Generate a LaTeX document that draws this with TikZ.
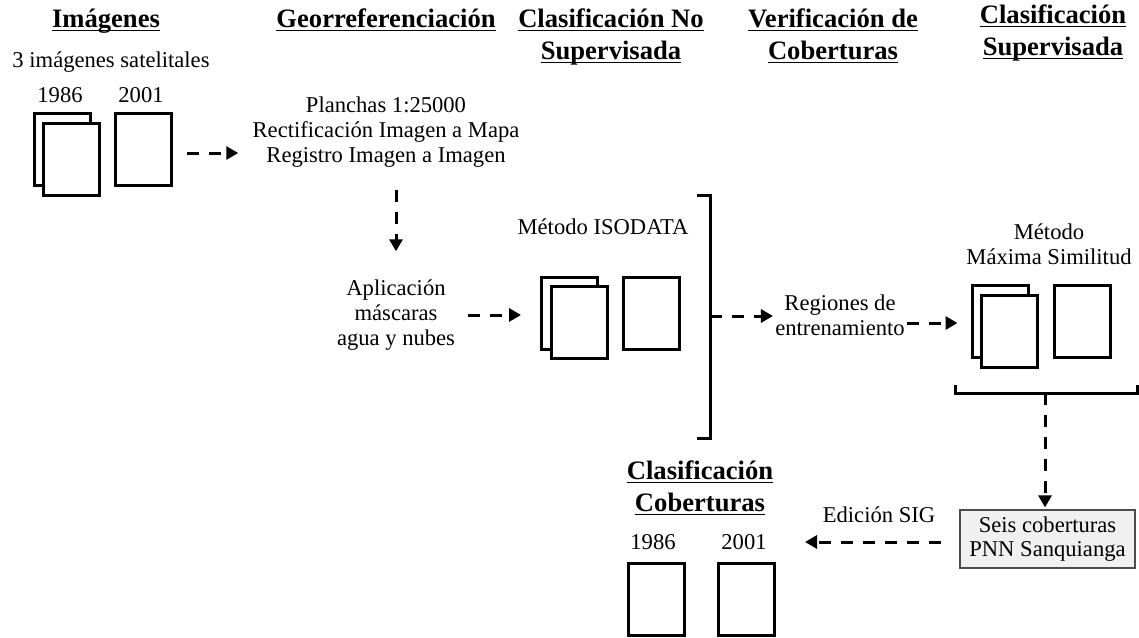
\documentclass[tikz,border=0pt]{standalone}
\usepackage{fontspec}
\setmainfont{Liberation Serif}
\usetikzlibrary{calc,positioning,arrows.meta}
% underline that sits on the baseline and runs through descenders
\newcommand\ulbox[1]{\underline{\smash{#1}\vphantom{A}}}
\tikzset{
  sheet/.style={ % image of one satellite scene
    draw, line width=1.5pt, rectangle, fill=white,
    minimum width=28pt, minimum height=36pt, inner sep=0pt
  },
  head/.style={ % underlined column title
    font=\fontsize{13.3}{16}\selectfont\bfseries,
    align=center, inner sep=1pt
  },
  txt/.style={
    font=\fontsize{11.3}{12.5}\selectfont,
    align=center, inner sep=1pt
  },
  flow/.style={ % dashed step arrow
    line width=1.5pt, dash pattern=on 6pt off 5pt,
    -{Triangle[length=6pt,width=6.5pt]}
  },
  brace/.style={line width=1.5pt},
  cover/.style={
    draw=black!70, line width=0.6pt, fill=black!6,
    minimum width=87.5pt, minimum height=29pt,
    font=\fontsize{11.3}{12}\selectfont, align=center, inner sep=1pt
  }
}

\begin{document}
\begin{tikzpicture}[x=0.5pt, y=-0.5pt]
  \useasboundingbox (0,0) rectangle (1139,637);

  % column titles
  \node[head] (h_img) at (106,21) {\ulbox{Imágenes}};
  \node[head] (h_geo) at (386,21) {\ulbox{Georreferenciación}};
  \node[head] (h_nosup) at (611,37) {\ulbox{Clasificación No}\\\ulbox{Supervisada}};
  \node[head] (h_ver) at (833,37) {\ulbox{Verificación de}\\\ulbox{Coberturas}};
  \node[head] (h_sup) at (1053,33) {\ulbox{Clasificación}\\\ulbox{Supervisada}};

  % input images
  \node[txt] (sat_text) at (111,62) {3 imágenes satelitales};
  \node[sheet] (a_back) at (62.5,149) {};
  \node[sheet] (a_front) at (71.5,159) {};
  \node[sheet] (a_2001) at (143.5,149) {};
  \node[txt] (a_y1) at (60,95) {1986};
  \node[txt] (a_y2) at (141,95) {2001};

  % georeferencing
  \node[txt] (geo_text) at (386,132) {Planchas 1:25000\\Rectificación Imagen a Mapa\\Registro Imagen a Imagen};
  \node[txt] (mask_text) at (396,315) {Aplicación\\máscaras\\agua y nubes};

  % unsupervised
  \node[txt] (iso_text) at (603,227) {Método ISODATA};
  \node[sheet] (b_back) at (569.5,313.5) {};
  \node[sheet] (b_front) at (579,322) {};
  \node[sheet] (b_2001) at (651.5,313.5) {};
  \draw[brace] (697,195) -- (710,195) -- (710,438) -- (697,438);
  \coordinate (br_mid) at (710,316);

  % verification and supervised
  \node[txt] (reg_text) at (840,315) {Regiones de\\entrenamiento};
  \node[txt] (max_text) at (1049,244) {Método\\Máxima Similitud};
  \node[sheet] (c_back) at (1000,321.5) {};
  \node[sheet] (c_front) at (1009.5,331.5) {};
  \node[sheet] (c_2001) at (1082,321.5) {};
  \draw[brace] (955,385) -- (955,393) -- (1137,393) -- (1137,385);
  \coordinate (br2_mid) at (1045,393);
  \node[cover] (cover_box) at (1047.5,539) {Seis coberturas\\PNN Sanquianga};

  % result
  \node[head] (h_cls) at (700,489) {\ulbox{Clasificación}\\\ulbox{Coberturas}};
  \node[txt] (d_y1) at (653,542) {1986};
  \node[txt] (d_y2) at (744,542) {2001};
  \node[sheet] (d_1986) at (656,599) {};
  \node[sheet] (d_2001) at (746.5,599) {};
  \node[txt] (sig_text) at (879,515) {Edición SIG};

  % arrows
  \draw[flow, shorten <=7pt, shorten >=6pt] ([yshift=-2pt]a_2001.east) -- ([yshift=-2pt]a_2001.east -| geo_text.west);
  \draw[flow, shorten <=10pt, shorten >=13pt] (mask_text |- geo_text.south) -- (mask_text.north);
  \draw[flow, shorten <=5.5pt, shorten >=9.5pt] (mask_text.east) -- (mask_text.east -| b_back.west);
  \draw[flow, shorten >=0pt] (br_mid) -- (br_mid -| reg_text.west);
  \draw[flow, shorten >=6.5pt] ([yshift=-4pt]reg_text.east) -- ([yshift=-4pt]reg_text.east -| c_back.west);
  \draw[flow, shorten >=1pt] (br2_mid) -- (br2_mid |- cover_box.north);
  \draw[flow, shorten <=9pt, shorten >=18pt] ([yshift=-1.5pt]cover_box.west) -- ([yshift=-1.5pt]cover_box.west -| d_y2.east);
\end{tikzpicture}
\end{document}
